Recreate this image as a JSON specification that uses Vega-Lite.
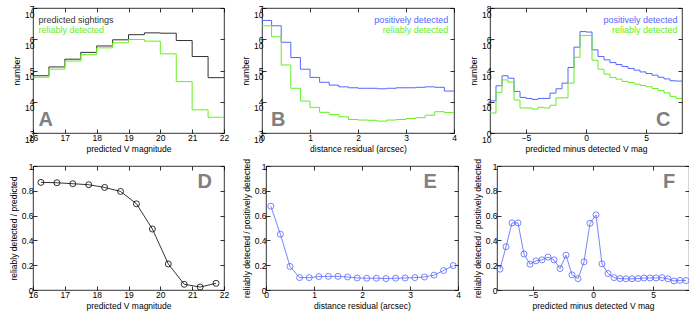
{
  "$schema": "https://vega.github.io/schema/vega-lite/v6.json",
  "padding": {"left": 8, "top": 3, "right": 2, "bottom": 2},
  "background": "white",
  "config": {
    "font": "Liberation Sans",
    "view": {"stroke": "#000", "strokeWidth": 0.8},
    "text": {"font": "Liberation Sans"},
    "axis": {"domain": false, "grid": false, "tickSize": -4, "tickColor": "#000", "tickWidth": 0.8,
      "labelOverlap": false, "labelFlush": false,
      "labelFont": "Liberation Sans", "labelFontSize": 8.5, "labelColor": "#000", "labelPadding": 3,
      "titleFont": "Liberation Sans", "titleFontSize": 8.5, "titleFontWeight": "normal", "titleColor": "#000", "titlePadding": 3},
    "axisBottom": {"labelPadding": 4}
  },
  "datasets": {
    "histA": [
      {"series": "predicted sightings", "x": 16, "n": 68000}, {"series": "predicted sightings", "x": 16.5, "n": 130000},
      {"series": "predicted sightings", "x": 17, "n": 230000}, {"series": "predicted sightings", "x": 17.5, "n": 380000},
      {"series": "predicted sightings", "x": 18, "n": 610000}, {"series": "predicted sightings", "x": 18.5, "n": 960000},
      {"series": "predicted sightings", "x": 19, "n": 1400000}, {"series": "predicted sightings", "x": 19.5, "n": 1600000},
      {"series": "predicted sightings", "x": 20, "n": 1560000}, {"series": "predicted sightings", "x": 20.5, "n": 910000},
      {"series": "predicted sightings", "x": 21, "n": 280000}, {"series": "predicted sightings", "x": 21.5, "n": 59000},
      {"series": "predicted sightings", "x": 22, "n": 59000},
      {"series": "reliably detected", "x": 16, "n": 61000}, {"series": "reliably detected", "x": 16.5, "n": 110000},
      {"series": "reliably detected", "x": 17, "n": 200000}, {"series": "reliably detected", "x": 17.5, "n": 320000},
      {"series": "reliably detected", "x": 18, "n": 530000}, {"series": "reliably detected", "x": 18.5, "n": 770000},
      {"series": "reliably detected", "x": 19, "n": 980000}, {"series": "reliably detected", "x": 19.5, "n": 870000},
      {"series": "reliably detected", "x": 20, "n": 340000}, {"series": "reliably detected", "x": 20.5, "n": 44000},
      {"series": "reliably detected", "x": 21, "n": 5500}, {"series": "reliably detected", "x": 21.5, "n": 3200},
      {"series": "reliably detected", "x": 22, "n": 3200}
    ],
    "histB": [
      {"series": "positively detected", "x": 0, "n": 4000000}, {"series": "positively detected", "x": 0.2, "n": 2700000},
      {"series": "positively detected", "x": 0.4, "n": 800000}, {"series": "positively detected", "x": 0.6, "n": 260000},
      {"series": "positively detected", "x": 0.8, "n": 110000}, {"series": "positively detected", "x": 1.0, "n": 60000},
      {"series": "positively detected", "x": 1.2, "n": 42000}, {"series": "positively detected", "x": 1.4, "n": 34000},
      {"series": "positively detected", "x": 1.6, "n": 30000}, {"series": "positively detected", "x": 1.8, "n": 28000},
      {"series": "positively detected", "x": 2.0, "n": 27000}, {"series": "positively detected", "x": 2.2, "n": 27000},
      {"series": "positively detected", "x": 2.4, "n": 26000}, {"series": "positively detected", "x": 2.6, "n": 27000},
      {"series": "positively detected", "x": 2.8, "n": 28000}, {"series": "positively detected", "x": 3.0, "n": 28000},
      {"series": "positively detected", "x": 3.2, "n": 29000}, {"series": "positively detected", "x": 3.4, "n": 30000},
      {"series": "positively detected", "x": 3.6, "n": 29000}, {"series": "positively detected", "x": 3.8, "n": 22000},
      {"series": "positively detected", "x": 4.0, "n": 22000},
      {"series": "reliably detected", "x": 0, "n": 2700000}, {"series": "reliably detected", "x": 0.2, "n": 1200000},
      {"series": "reliably detected", "x": 0.4, "n": 150000}, {"series": "reliably detected", "x": 0.6, "n": 27000},
      {"series": "reliably detected", "x": 0.8, "n": 10500}, {"series": "reliably detected", "x": 1.0, "n": 6600},
      {"series": "reliably detected", "x": 1.2, "n": 4600}, {"series": "reliably detected", "x": 1.4, "n": 3900},
      {"series": "reliably detected", "x": 1.6, "n": 3300}, {"series": "reliably detected", "x": 1.8, "n": 2700},
      {"series": "reliably detected", "x": 2.0, "n": 2600}, {"series": "reliably detected", "x": 2.2, "n": 2550},
      {"series": "reliably detected", "x": 2.4, "n": 2400}, {"series": "reliably detected", "x": 2.6, "n": 2600},
      {"series": "reliably detected", "x": 2.8, "n": 2700}, {"series": "reliably detected", "x": 3.0, "n": 2900},
      {"series": "reliably detected", "x": 3.2, "n": 3100}, {"series": "reliably detected", "x": 3.4, "n": 3700},
      {"series": "reliably detected", "x": 3.6, "n": 4800}, {"series": "reliably detected", "x": 3.8, "n": 4500},
      {"series": "reliably detected", "x": 4.0, "n": 4500}
    ],
    "histC": [
      {"series": "positively detected", "x": -8, "n": 115}, {"series": "positively detected", "x": -7.5, "n": 1050},
      {"series": "positively detected", "x": -7, "n": 4600}, {"series": "positively detected", "x": -6.5, "n": 3200},
      {"series": "positively detected", "x": -6, "n": 460}, {"series": "positively detected", "x": -5.5, "n": 190},
      {"series": "positively detected", "x": -5, "n": 163}, {"series": "positively detected", "x": -4.5, "n": 141},
      {"series": "positively detected", "x": -4, "n": 163}, {"series": "positively detected", "x": -3.5, "n": 163},
      {"series": "positively detected", "x": -3, "n": 357}, {"series": "positively detected", "x": -2.5, "n": 676},
      {"series": "positively detected", "x": -2, "n": 1550}, {"series": "positively detected", "x": -1.5, "n": 15600},
      {"series": "positively detected", "x": -1, "n": 310000}, {"series": "positively detected", "x": -0.5, "n": 3100000},
      {"series": "positively detected", "x": 0, "n": 2900000}, {"series": "positively detected", "x": 0.5, "n": 210000},
      {"series": "positively detected", "x": 1, "n": 78000}, {"series": "positively detected", "x": 1.5, "n": 48000},
      {"series": "positively detected", "x": 2, "n": 32000}, {"series": "positively detected", "x": 2.5, "n": 24000},
      {"series": "positively detected", "x": 3, "n": 18000}, {"series": "positively detected", "x": 3.5, "n": 13500},
      {"series": "positively detected", "x": 4, "n": 10500}, {"series": "positively detected", "x": 4.5, "n": 8100},
      {"series": "positively detected", "x": 5, "n": 6400}, {"series": "positively detected", "x": 5.5, "n": 5000},
      {"series": "positively detected", "x": 6, "n": 3700}, {"series": "positively detected", "x": 6.5, "n": 2900},
      {"series": "positively detected", "x": 7, "n": 2200}, {"series": "positively detected", "x": 7.5, "n": 2100},
      {"series": "positively detected", "x": 8, "n": 2100},
      {"series": "reliably detected", "x": -8, "n": 19}, {"series": "reliably detected", "x": -7.5, "n": 400},
      {"series": "reliably detected", "x": -7, "n": 2500}, {"series": "reliably detected", "x": -6.5, "n": 1800},
      {"series": "reliably detected", "x": -6, "n": 128}, {"series": "reliably detected", "x": -5.5, "n": 40},
      {"series": "reliably detected", "x": -5, "n": 40}, {"series": "reliably detected", "x": -4.5, "n": 34},
      {"series": "reliably detected", "x": -4, "n": 44}, {"series": "reliably detected", "x": -3.5, "n": 40},
      {"series": "reliably detected", "x": -3, "n": 59}, {"series": "reliably detected", "x": -2.5, "n": 178},
      {"series": "reliably detected", "x": -2, "n": 178}, {"series": "reliably detected", "x": -1.5, "n": 1550},
      {"series": "reliably detected", "x": -1, "n": 70000}, {"series": "reliably detected", "x": -0.5, "n": 1700000},
      {"series": "reliably detected", "x": 0, "n": 1750000}, {"series": "reliably detected", "x": 0.5, "n": 46000},
      {"series": "reliably detected", "x": 1, "n": 12000}, {"series": "reliably detected", "x": 1.5, "n": 5900},
      {"series": "reliably detected", "x": 2, "n": 3600}, {"series": "reliably detected", "x": 2.5, "n": 2800},
      {"series": "reliably detected", "x": 3, "n": 2000}, {"series": "reliably detected", "x": 3.5, "n": 1700},
      {"series": "reliably detected", "x": 4, "n": 1350}, {"series": "reliably detected", "x": 4.5, "n": 1100},
      {"series": "reliably detected", "x": 5, "n": 910}, {"series": "reliably detected", "x": 5.5, "n": 710},
      {"series": "reliably detected", "x": 6, "n": 530}, {"series": "reliably detected", "x": 6.5, "n": 370},
      {"series": "reliably detected", "x": 7, "n": 220}, {"series": "reliably detected", "x": 7.5, "n": 163},
      {"series": "reliably detected", "x": 8, "n": 163}
    ],
    "fracD": [
      {"x": 16.25, "f": 0.868}, {"x": 16.75, "f": 0.865}, {"x": 17.25, "f": 0.857}, {"x": 17.75, "f": 0.849},
      {"x": 18.25, "f": 0.827}, {"x": 18.75, "f": 0.795}, {"x": 19.25, "f": 0.695}, {"x": 19.75, "f": 0.492},
      {"x": 20.25, "f": 0.21}, {"x": 20.75, "f": 0.046}, {"x": 21.25, "f": 0.024}, {"x": 21.75, "f": 0.054}
    ],
    "fracE": [
      {"x": 0.1, "f": 0.676}, {"x": 0.3, "f": 0.45}, {"x": 0.5, "f": 0.19}, {"x": 0.7, "f": 0.1},
      {"x": 0.9, "f": 0.1}, {"x": 1.1, "f": 0.108}, {"x": 1.3, "f": 0.11}, {"x": 1.5, "f": 0.11},
      {"x": 1.7, "f": 0.105}, {"x": 1.9, "f": 0.097}, {"x": 2.1, "f": 0.095}, {"x": 2.3, "f": 0.095},
      {"x": 2.5, "f": 0.092}, {"x": 2.7, "f": 0.095}, {"x": 2.9, "f": 0.097}, {"x": 3.1, "f": 0.1},
      {"x": 3.3, "f": 0.105}, {"x": 3.5, "f": 0.12}, {"x": 3.7, "f": 0.157}, {"x": 3.9, "f": 0.197}
    ],
    "fracF": [
      {"x": -7.75, "f": 0.168}, {"x": -7.25, "f": 0.349}, {"x": -6.75, "f": 0.541}, {"x": -6.25, "f": 0.541},
      {"x": -5.75, "f": 0.29}, {"x": -5.25, "f": 0.208}, {"x": -4.75, "f": 0.235}, {"x": -4.25, "f": 0.243},
      {"x": -3.75, "f": 0.265}, {"x": -3.25, "f": 0.243}, {"x": -2.75, "f": 0.173}, {"x": -2.25, "f": 0.281},
      {"x": -1.75, "f": 0.122}, {"x": -1.25, "f": 0.092}, {"x": -0.75, "f": 0.227}, {"x": -0.25, "f": 0.538},
      {"x": 0.25, "f": 0.606}, {"x": 0.75, "f": 0.211}, {"x": 1.25, "f": 0.133}, {"x": 1.75, "f": 0.1},
      {"x": 2.25, "f": 0.092}, {"x": 2.75, "f": 0.09}, {"x": 3.25, "f": 0.09}, {"x": 3.75, "f": 0.092},
      {"x": 4.25, "f": 0.097}, {"x": 4.75, "f": 0.097}, {"x": 5.25, "f": 0.097}, {"x": 5.75, "f": 0.1},
      {"x": 6.25, "f": 0.09}, {"x": 6.75, "f": 0.073}, {"x": 7.25, "f": 0.078}, {"x": 7.75, "f": 0.076}
    ]
  },
  "spacing": 4,
  "vconcat": [
    {
      "spacing": 11,
      "hconcat": [
        {
          "width": 191, "height": 125,
          "resolve": {"axis": {"x": "independent", "y": "independent"}},
          "layer": [
            {
              "data": {"name": "histA"},
              "mark": {"type": "line", "interpolate": "step-after", "strokeWidth": 1},
              "encoding": {
                "x": {"field": "x", "type": "quantitative", "scale": {"domain": [16, 22], "nice": false, "zero": false},
                  "axis": {"values": [16, 17, 18, 19, 20, 21, 22], "title": "predicted V magnitude"}},
                "y": {"field": "n", "type": "quantitative", "scale": {"type": "log", "domain": [1000, 10000000], "nice": false},
                  "axis": {"values": [1000, 10000, 100000, 1000000, 10000000], "title": "number", "labelLineHeight": 6, "labelDy": -6,
                    "labelExpr": "[format(round(log(datum.value)/LN10), 'd'), '10\u00a0\u00a0']"}},
                "color": {"field": "series", "type": "nominal", "legend": null,
                  "scale": {"domain": ["predicted sightings", "positively detected", "reliably detected"], "range": ["#333333", "#5566ff", "#66ee22"]}}
              }
            },
            {
              "data": {"name": "histA"},
              "mark": {"type": "point", "opacity": 0},
              "encoding": {
                "x": {"field": "x", "type": "quantitative", "axis": {"orient": "top", "labels": false, "title": null, "values": [16, 17, 18, 19, 20, 21, 22]}},
                "y": {"field": "n", "type": "quantitative", "axis": {"orient": "right", "labels": false, "title": null, "values": [1000, 10000, 100000, 1000000, 10000000]}}
              }
            },
            {
              "data": {"values": [{"series": "predicted sightings", "x": 16.17, "n": 4200000}, {"series": "reliably detected", "x": 16.17, "n": 2000000}]},
              "mark": {"type": "text", "align": "left", "baseline": "middle", "fontSize": 9},
              "encoding": {"x": {"field": "x", "type": "quantitative", "axis": null}, "y": {"field": "n", "type": "quantitative", "axis": null},
                "text": {"field": "series"}, "color": {"field": "series", "type": "nominal", "legend": null}}
            },
            {
              "data": {"values": [{"label": "A", "x": 16.17, "n": 1620}]},
              "mark": {"type": "text", "align": "left", "baseline": "alphabetic", "fontSize": 20, "fontWeight": "bold", "color": "#808080"},
              "encoding": {"x": {"field": "x", "type": "quantitative", "axis": null}, "y": {"field": "n", "type": "quantitative", "axis": null}, "text": {"field": "label"}}
            }
          ]
        },
        {
          "width": 192, "height": 125,
          "resolve": {"axis": {"x": "independent", "y": "independent"}},
          "layer": [
            {
              "data": {"name": "histB"},
              "mark": {"type": "line", "interpolate": "step-after", "strokeWidth": 1},
              "encoding": {
                "x": {"field": "x", "type": "quantitative", "scale": {"domain": [0, 4], "nice": false},
                  "axis": {"values": [0, 1, 2, 3, 4], "title": "distance residual (arcsec)"}},
                "y": {"field": "n", "type": "quantitative", "scale": {"type": "log", "domain": [1000, 10000000], "nice": false},
                  "axis": {"values": [1000, 10000, 100000, 1000000, 10000000], "title": "number", "labelLineHeight": 6, "labelDy": -6,
                    "labelExpr": "[format(round(log(datum.value)/LN10), 'd'), '10\u00a0\u00a0']"}},
                "color": {"field": "series", "type": "nominal", "legend": null,
                  "scale": {"domain": ["predicted sightings", "positively detected", "reliably detected"], "range": ["#333333", "#5566ff", "#66ee22"]}}
              }
            },
            {
              "data": {"name": "histB"},
              "mark": {"type": "point", "opacity": 0},
              "encoding": {
                "x": {"field": "x", "type": "quantitative", "axis": {"orient": "top", "labels": false, "title": null, "values": [0, 1, 2, 3, 4]}},
                "y": {"field": "n", "type": "quantitative", "axis": {"orient": "right", "labels": false, "title": null, "values": [1000, 10000, 100000, 1000000, 10000000]}}
              }
            },
            {
              "data": {"values": [{"series": "positively detected", "x": 3.88, "n": 4200000}, {"series": "reliably detected", "x": 3.88, "n": 2000000}]},
              "mark": {"type": "text", "align": "right", "baseline": "middle", "fontSize": 9},
              "encoding": {"x": {"field": "x", "type": "quantitative", "axis": null}, "y": {"field": "n", "type": "quantitative", "axis": null},
                "text": {"field": "series"}, "color": {"field": "series", "type": "nominal", "legend": null}}
            },
            {
              "data": {"values": [{"label": "B", "x": 0.19, "n": 1620}]},
              "mark": {"type": "text", "align": "left", "baseline": "alphabetic", "fontSize": 20, "fontWeight": "bold", "color": "#808080"},
              "encoding": {"x": {"field": "x", "type": "quantitative", "axis": null}, "y": {"field": "n", "type": "quantitative", "axis": null}, "text": {"field": "label"}}
            }
          ]
        },
        {
          "width": 192, "height": 125,
          "resolve": {"axis": {"x": "independent", "y": "independent"}},
          "layer": [
            {
              "data": {"name": "histC"},
              "mark": {"type": "line", "interpolate": "step-after", "strokeWidth": 1},
              "encoding": {
                "x": {"field": "x", "type": "quantitative", "scale": {"domain": [-8, 8], "nice": false},
                  "axis": {"values": [-5, 0, 5], "title": "predicted minus detected V mag"}},
                "y": {"field": "n", "type": "quantitative", "scale": {"type": "log", "domain": [1, 100000000], "nice": false},
                  "axis": {"values": [1, 100, 10000, 1000000, 100000000], "title": "number", "labelLineHeight": 6, "labelDy": -6,
                    "labelExpr": "[format(round(log(datum.value)/LN10), 'd'), '10\u00a0\u00a0']"}},
                "color": {"field": "series", "type": "nominal", "legend": null,
                  "scale": {"domain": ["predicted sightings", "positively detected", "reliably detected"], "range": ["#333333", "#5566ff", "#66ee22"]}}
              }
            },
            {
              "data": {"name": "histC"},
              "mark": {"type": "point", "opacity": 0},
              "encoding": {
                "x": {"field": "x", "type": "quantitative", "axis": {"orient": "top", "labels": false, "title": null, "values": [-5, 0, 5]}},
                "y": {"field": "n", "type": "quantitative", "axis": {"orient": "right", "labels": false, "title": null, "values": [1, 100, 10000, 1000000, 100000000]}}
              }
            },
            {
              "data": {"values": [{"series": "positively detected", "x": 7.63, "n": 17000000}, {"series": "reliably detected", "x": 7.63, "n": 3900000}]},
              "mark": {"type": "text", "align": "right", "baseline": "middle", "fontSize": 9},
              "encoding": {"x": {"field": "x", "type": "quantitative", "axis": null}, "y": {"field": "n", "type": "quantitative", "axis": null},
                "text": {"field": "series"}, "color": {"field": "series", "type": "nominal", "legend": null}}
            },
            {
              "data": {"values": [{"label": "C", "x": 5.83, "n": 2.7}]},
              "mark": {"type": "text", "align": "left", "baseline": "alphabetic", "fontSize": 20, "fontWeight": "bold", "color": "#808080"},
              "encoding": {"x": {"field": "x", "type": "quantitative", "axis": null}, "y": {"field": "n", "type": "quantitative", "axis": null}, "text": {"field": "label"}}
            }
          ]
        }
      ]
    },
    {
      "spacing": 11,
      "hconcat": [
        {
          "width": 191, "height": 124,
          "resolve": {"axis": {"x": "independent", "y": "independent"}},
          "layer": [
            {
              "data": {"name": "fracD"},
              "mark": {"type": "line", "color": "#000", "strokeWidth": 0.8, "point": {"shape": "circle", "filled": false, "size": 36, "color": "#000", "strokeWidth": 0.8}},
              "encoding": {
                "x": {"field": "x", "type": "quantitative", "scale": {"domain": [16, 22], "nice": false, "zero": false},
                  "axis": {"values": [16, 17, 18, 19, 20, 21, 22], "title": "predicted V magnitude"}},
                "y": {"field": "f", "type": "quantitative", "scale": {"domain": [0, 1], "nice": false},
                  "axis": {"values": [0, 0.2, 0.4, 0.6, 0.8, 1], "format": ".1~f", "title": "reliably detected / predicted", "labelPadding": 4}}
              }
            },
            {
              "data": {"name": "fracD"},
              "mark": {"type": "point", "opacity": 0},
              "encoding": {
                "x": {"field": "x", "type": "quantitative", "axis": {"orient": "top", "labels": false, "title": null, "values": [16, 17, 18, 19, 20, 21, 22]}},
                "y": {"field": "f", "type": "quantitative", "axis": {"orient": "right", "labels": false, "title": null, "values": [0, 0.2, 0.4, 0.6, 0.8, 1]}}
              }
            },
            {
              "data": {"values": [{"label": "D", "x": 21.17, "f": 0.822}]},
              "mark": {"type": "text", "align": "left", "baseline": "alphabetic", "fontSize": 20, "fontWeight": "bold", "color": "#808080"},
              "encoding": {"x": {"field": "x", "type": "quantitative", "axis": null}, "y": {"field": "f", "type": "quantitative", "axis": null}, "text": {"field": "label"}}
            }
          ]
        },
        {
          "width": 192, "height": 124,
          "resolve": {"axis": {"x": "independent", "y": "independent"}},
          "layer": [
            {
              "data": {"name": "fracE"},
              "mark": {"type": "line", "color": "#5566ff", "strokeWidth": 0.8, "point": {"shape": "circle", "filled": false, "size": 36, "color": "#5566ff", "strokeWidth": 0.8}},
              "encoding": {
                "x": {"field": "x", "type": "quantitative", "scale": {"domain": [0, 4], "nice": false},
                  "axis": {"values": [0, 1, 2, 3, 4], "title": "distance residual (arcsec)"}},
                "y": {"field": "f", "type": "quantitative", "scale": {"domain": [0, 1], "nice": false},
                  "axis": {"values": [0, 0.2, 0.4, 0.6, 0.8, 1], "format": ".1~f", "title": "reliably detected / positively detected", "labelPadding": 4}}
              }
            },
            {
              "data": {"name": "fracE"},
              "mark": {"type": "point", "opacity": 0},
              "encoding": {
                "x": {"field": "x", "type": "quantitative", "axis": {"orient": "top", "labels": false, "title": null, "values": [0, 1, 2, 3, 4]}},
                "y": {"field": "f", "type": "quantitative", "axis": {"orient": "right", "labels": false, "title": null, "values": [0, 0.2, 0.4, 0.6, 0.8, 1]}}
              }
            },
            {
              "data": {"values": [{"label": "E", "x": 3.28, "f": 0.822}]},
              "mark": {"type": "text", "align": "left", "baseline": "alphabetic", "fontSize": 20, "fontWeight": "bold", "color": "#808080"},
              "encoding": {"x": {"field": "x", "type": "quantitative", "axis": null}, "y": {"field": "f", "type": "quantitative", "axis": null}, "text": {"field": "label"}}
            }
          ]
        },
        {
          "width": 192, "height": 124,
          "resolve": {"axis": {"x": "independent", "y": "independent"}},
          "layer": [
            {
              "data": {"name": "fracF"},
              "mark": {"type": "line", "color": "#5566ff", "strokeWidth": 0.8, "point": {"shape": "circle", "filled": false, "size": 36, "color": "#5566ff", "strokeWidth": 0.8}},
              "encoding": {
                "x": {"field": "x", "type": "quantitative", "scale": {"domain": [-8, 8], "nice": false},
                  "axis": {"values": [-5, 0, 5], "title": "predicted minus detected V mag"}},
                "y": {"field": "f", "type": "quantitative", "scale": {"domain": [0, 1], "nice": false},
                  "axis": {"values": [0, 0.2, 0.4, 0.6, 0.8, 1], "format": ".1~f", "title": "reliably detected / positively detected", "labelPadding": 4}}
              }
            },
            {
              "data": {"name": "fracF"},
              "mark": {"type": "point", "opacity": 0},
              "encoding": {
                "x": {"field": "x", "type": "quantitative", "axis": {"orient": "top", "labels": false, "title": null, "values": [-5, 0, 5]}},
                "y": {"field": "f", "type": "quantitative", "axis": {"orient": "right", "labels": false, "title": null, "values": [0, 0.2, 0.4, 0.6, 0.8, 1]}}
              }
            },
            {
              "data": {"values": [{"label": "F", "x": 5.83, "f": 0.822}]},
              "mark": {"type": "text", "align": "left", "baseline": "alphabetic", "fontSize": 20, "fontWeight": "bold", "color": "#808080"},
              "encoding": {"x": {"field": "x", "type": "quantitative", "axis": null}, "y": {"field": "f", "type": "quantitative", "axis": null}, "text": {"field": "label"}}
            }
          ]
        }
      ]
    }
  ]
}
